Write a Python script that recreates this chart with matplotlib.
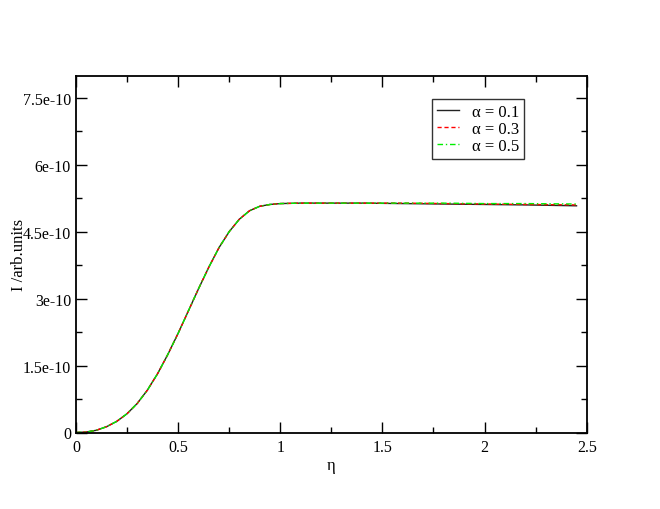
import matplotlib
matplotlib.use("Agg")
import matplotlib.pyplot as plt
from matplotlib.ticker import MultipleLocator, FuncFormatter

plt.rcParams['font.family'] = ['Liberation Serif', 'DejaVu Serif']

# eta values and intensities (units of 1e-10)
eta = [0, 0.05, 0.1, 0.15, 0.2, 0.25, 0.3, 0.35, 0.4, 0.45, 0.5, 0.55, 0.6,
       0.65, 0.7, 0.75, 0.8, 0.85, 0.9, 0.95, 1.0, 1.1, 1.2, 1.4, 1.6, 1.8,
       2.0, 2.2, 2.45]
I_a01 = [0, 0.01, 0.05, 0.13, 0.25, 0.42, 0.65, 0.95, 1.32, 1.75, 2.22, 2.72,
         3.22, 3.70, 4.14, 4.50, 4.78, 4.97, 5.07, 5.11, 5.13, 5.14, 5.14,
         5.14, 5.13, 5.12, 5.11, 5.10, 5.08]
I_a03 = [0, 0.01, 0.05, 0.13, 0.25, 0.42, 0.65, 0.95, 1.32, 1.75, 2.22, 2.72,
         3.22, 3.70, 4.14, 4.50, 4.78, 4.97, 5.07, 5.11, 5.13, 5.14, 5.14,
         5.14, 5.14, 5.13, 5.12, 5.11, 5.10]
I_a05 = [0, 0.01, 0.05, 0.13, 0.25, 0.42, 0.65, 0.95, 1.32, 1.75, 2.22, 2.72,
         3.22, 3.70, 4.14, 4.50, 4.78, 4.97, 5.07, 5.11, 5.13, 5.14, 5.14,
         5.14, 5.14, 5.14, 5.13, 5.13, 5.12]
labels = ['α = 0.1', 'α = 0.3', 'α = 0.5']

scale = 1e-10

fig = plt.figure(figsize=(6.6, 5.1), dpi=100)
ax = fig.add_axes([0.115, 0.150, 0.774, 0.700])

ax.plot(eta, [v * scale for v in I_a01], color='#222222', lw=1.0, label=labels[0])
ax.plot(eta, [v * scale for v in I_a03], color='red', lw=1.0, ls=(0, (3, 2)), label=labels[1])
ax.plot(eta, [v * scale for v in I_a05], color='#00ee00', lw=1.0, ls=(0, (4, 2, 1, 2)), label=labels[2])

ax.set_xlim(0, 2.5)
ax.set_ylim(0, 8e-10)
ax.xaxis.set_major_locator(MultipleLocator(0.5))
ax.xaxis.set_minor_locator(MultipleLocator(0.25))
ax.yaxis.set_major_locator(MultipleLocator(1.5e-10))
ax.yaxis.set_minor_locator(MultipleLocator(0.75e-10))

def xfmt(v, pos):
    return '%g' % v

def yfmt(v, pos):
    if abs(v) < 1e-20:
        return '0'
    return ('%g' % v).replace('e-0', 'e-')

ax.xaxis.set_major_formatter(FuncFormatter(xfmt))
ax.yaxis.set_major_formatter(FuncFormatter(yfmt))

ax.tick_params(which='both', direction='in', top=True, right=True, labelsize=11.5)
ax.tick_params(which='major', length=8, width=1)
ax.tick_params(which='minor', length=4, width=1)
ax.tick_params(axis='x', pad=5)
for sp in ax.spines.values():
    sp.set_linewidth(1.3)

ax.set_xlabel('η', fontsize=12, labelpad=1)
ax.set_ylabel('I /arb.units', fontsize=12)
ax.yaxis.set_label_coords(-0.096, 0.5)

leg = ax.legend(loc='upper left', bbox_to_anchor=(0.698, 0.934), frameon=True,
                fancybox=False, edgecolor='black', fontsize=12,
                handlelength=1.3, borderpad=0.3, labelspacing=0.05,
                handletextpad=0.75, borderaxespad=0)
leg.get_frame().set_linewidth(1.0)

fig.savefig('out.png', dpi=100)
